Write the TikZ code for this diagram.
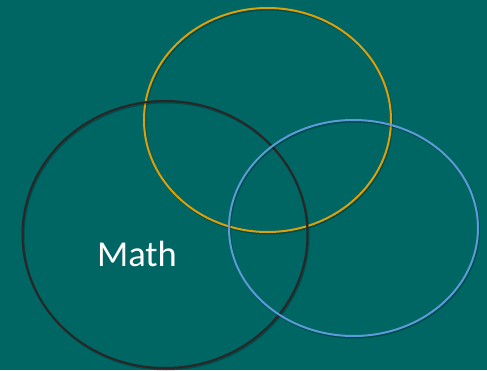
\documentclass[tikz,border=0pt]{standalone}
\usepackage{fontspec}
\setmainfont{Carlito}
\usetikzlibrary{shapes.geometric,shadows}
\definecolor{boardTeal}{HTML}{006664}
\definecolor{ringGold}{HTML}{DCA10A}
\definecolor{ringDark}{HTML}{2A2526}
\definecolor{ringBlue}{HTML}{5C9BD8}

\begin{document}
\begin{tikzpicture}[x=1pt, y=-1pt,
    ring/.style={ellipse, draw, line width=2pt, inner sep=0pt,
      drop shadow={shadow xshift=1pt, shadow yshift=-1.5pt, opacity=0.25, fill=none, draw=black}}]
    \fill[boardTeal] (0,0) rectangle (487,370);
    \useasboundingbox (0,0) rectangle (487,370);
    \node[ring, draw=ringGold, minimum width=247pt, minimum height=224pt] (gold) at (267.5,120) {};
    \node[ring, draw=ringDark, minimum width=285pt, minimum height=267pt] (dark) at (165,234.5) {};
    \node[ring, draw=ringBlue, minimum width=249pt, minimum height=216pt] (blue) at (353.5,228) {};
    \node[text=white, font=\fontsize{36.5}{42}\selectfont, anchor=base] (math) at (137,266) {Math};
\end{tikzpicture}
\end{document}
